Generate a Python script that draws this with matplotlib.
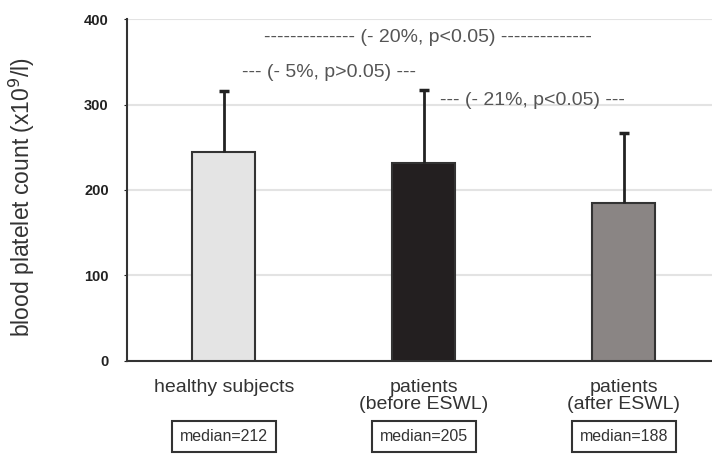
import numpy as np
import matplotlib.pyplot as plt

plt.rcParams['font.family'] = ['Liberation Sans', 'DejaVu Sans']

# Data
groups = ['healthy subjects', 'patients\n(before ESWL)', 'patients\n(after ESWL)']
means = [245, 232, 185]
sd_upper = [71, 85, 82]
medians = ['median=212', 'median=205', 'median=188']
bar_colors = ['#e4e4e4', '#231f20', '#8a8584']

# Comparisons: text, x centre, y
comp_text = ['-------------- (- 20%, p<0.05) --------------',
             '--- (- 5%, p>0.05) ---',
             '--- (- 21%, p<0.05) ---']
comp_x = [1.02, 0.525, 1.545]
comp_y = [378, 338, 305]

fig = plt.figure(figsize=(7.12, 4.54), dpi=100)
ax = fig.add_axes([0.178, 0.205, 0.822, 0.753])

x = np.arange(len(groups))
ax.bar(x, means, width=0.315, color=bar_colors, edgecolor='#333333',
       linewidth=1.5, zorder=3)
eb = ax.errorbar(x, means, yerr=[np.zeros(len(x)), sd_upper], fmt='none',
                 ecolor='#222222', elinewidth=2.0, capsize=3.3, capthick=2.5,
                 zorder=4)
# only the upper caps
eb[1][0].set_visible(False)

ax.set_xlim(-0.485, 2.44)
ax.set_ylim(0, 400)
ax.set_yticks([0, 100, 200, 300, 400])
ax.yaxis.grid(True, color='#e3e3e3', linewidth=1.5, zorder=0)
ax.set_axisbelow(True)

for s in ['top', 'right']:
    ax.spines[s].set_visible(False)
for s in ['left', 'bottom']:
    ax.spines[s].set_color('#333333')
    ax.spines[s].set_linewidth(1.5)

ax.tick_params(axis='y', length=2, pad=11, labelsize=10.5, colors='#222222')
for lab in ax.get_yticklabels():
    lab.set_fontweight('bold')
ax.set_xticks(x)
ax.set_xticklabels(groups, fontsize=14, color='#333333', linespacing=1.0)
ax.tick_params(axis='x', length=0, pad=13)

ax.set_ylabel('blood platelet count (x10$^9$/l)', fontsize=16.5,
              color='#333333')
ax.yaxis.set_label_coords(-0.154, 0.48)

# median boxes
for xi, m in zip(x, medians):
    ax.text(xi, -0.222, m, transform=ax.get_xaxis_transform(), ha='center',
            va='center', fontsize=11.5, color='#333333',
            bbox=dict(boxstyle='square,pad=0.5', facecolor='white',
                      edgecolor='#333333', linewidth=1.5))

# comparison annotations
for t, cx, cy in zip(comp_text, comp_x, comp_y):
    ax.text(cx, cy, t, ha='center', va='center', fontsize=14,
            color='#555555')

fig.savefig('out.png', dpi=100)
